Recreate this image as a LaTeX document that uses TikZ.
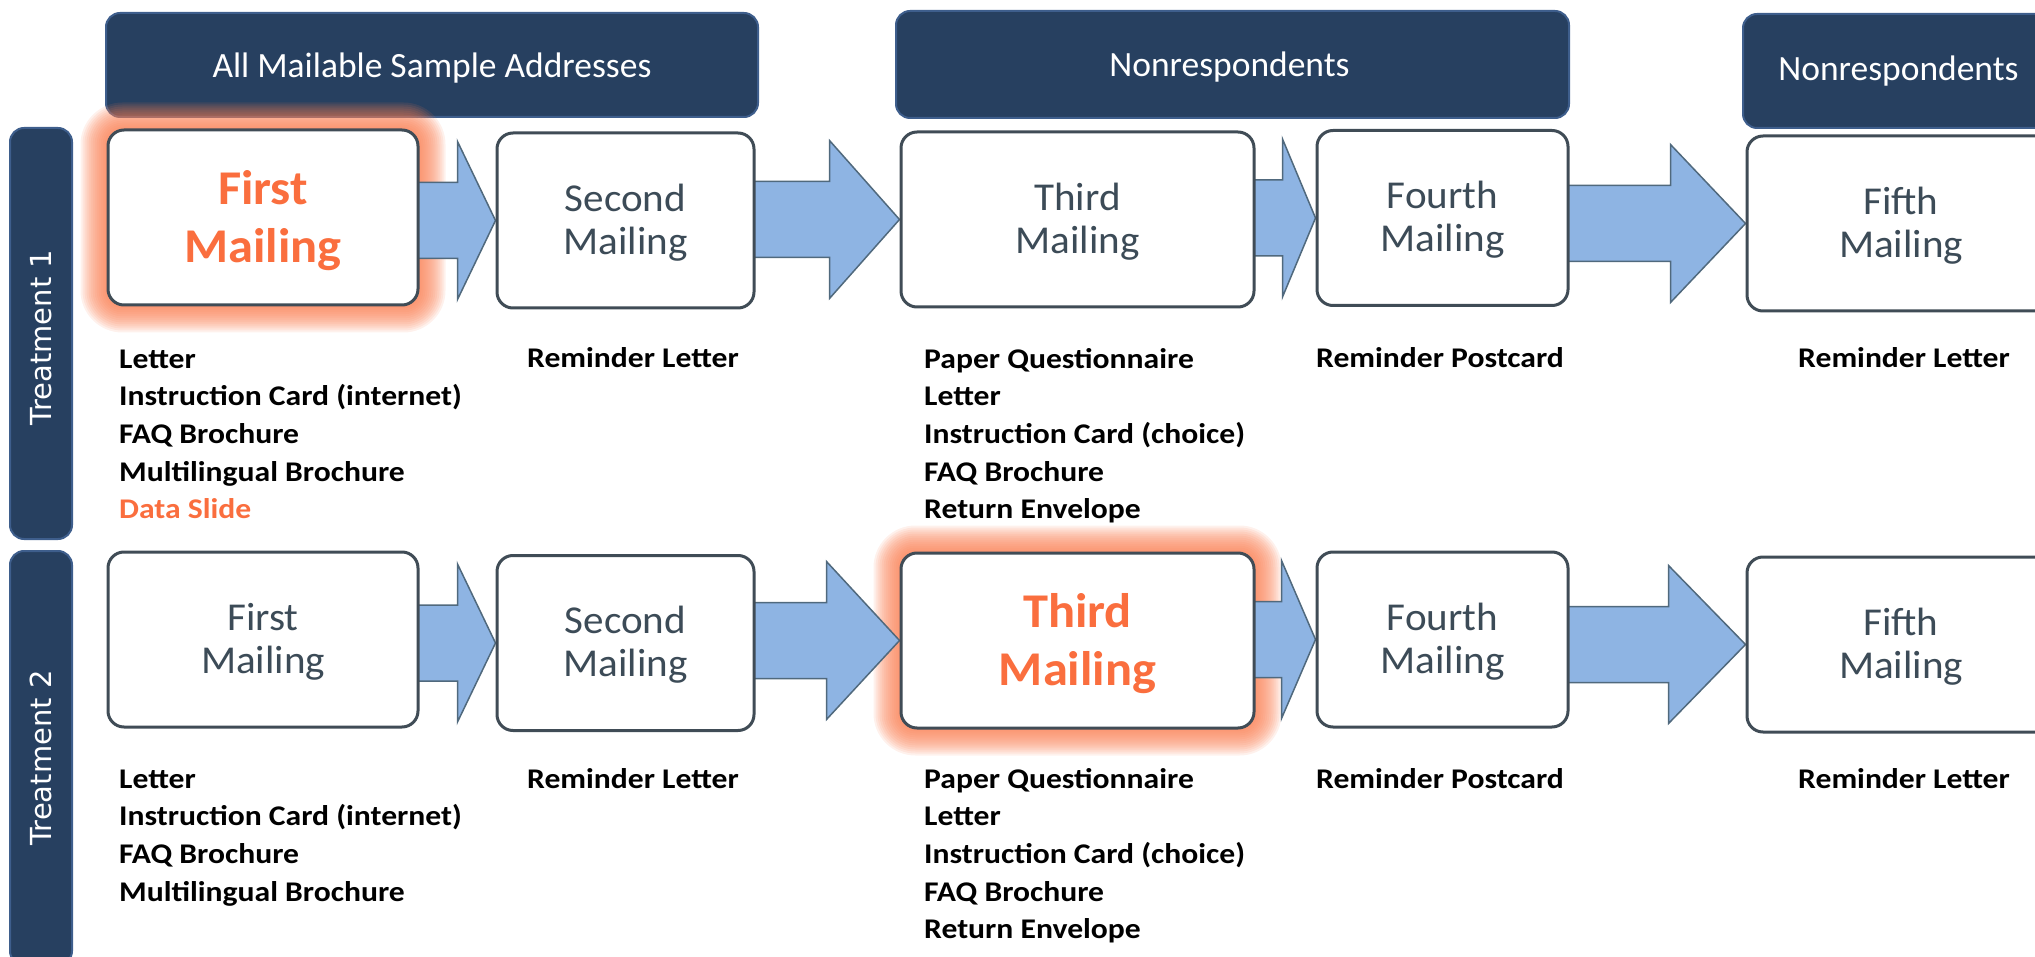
\documentclass[tikz,border=0pt]{standalone}
\usepackage{fontspec}
\setmainfont{Carlito}
\newfontfamily\sidefont{DejaVu Sans}
\newfontfamily\listfont[FakeStretch=1.11]{Carlito}
\newfontfamily\boxfont[FakeStretch=1.04]{Carlito}
\usetikzlibrary{calc}

\definecolor{navy}{RGB}{39,64,96}
\definecolor{navyedge}{RGB}{62,94,140}
\definecolor{boxedge}{RGB}{64,76,86}
\definecolor{boxtext}{RGB}{60,75,87}
\definecolor{hilite}{RGB}{250,110,62}
\definecolor{glowc}{RGB}{250,125,80}
\definecolor{arrowfill}{RGB}{142,180,227}
\definecolor{arrowedge}{RGB}{80,105,125}

\pgfdeclarelayer{bands}
\pgfdeclarelayer{glow}
\pgfdeclarelayer{flow}
\pgfsetlayers{bands,glow,flow,main}

\tikzset{
  band/.style={fill=navy, draw=navyedge, line width=2pt, rounded corners=14pt,
    inner sep=0pt},
  headtext/.style={text=white, inner sep=0pt, font=\fontsize{35.5}{40}\selectfont},
  sidetext/.style={text=white, inner sep=0pt, rotate=90,
    font=\sidefont\fontsize{29}{34}\selectfont},
  mailbox/.style={draw=boxedge, line width=3pt, fill=white, rounded corners=16pt,
    inner sep=0pt, text=boxtext, align=center, minimum height=175pt, text depth=3pt,
    font=\boxfont\fontsize{39.5}{43}\selectfont},
  keybox/.style={mailbox, text=hilite, text depth=2pt,
    font=\boxfont\fontsize{48.5}{58}\selectfont\bfseries},
  items/.style={anchor=base west, align=left, inner sep=0pt,
    font=\listfont\fontsize{28.5}{37.7}\selectfont\bfseries},
  flowarrow/.style={fill=arrowfill, draw=arrowedge, line width=1.5pt, line join=miter}
}

% block arrow from the right side of #1 to the left side of #2, head length #3
\newcommand\mailarrow[3]{%
  \path[flowarrow] let \p1=(#1.east), \p2=(#2.west) in
    (\x1-6pt,\y2+38pt) -- (\x2-#3pt,\y2+38pt) -- (\x2-#3pt,\y2+79pt) -- (\x2,\y2)
    -- (\x2-#3pt,\y2-79pt) -- (\x2-#3pt,\y2-38pt) -- (\x1-6pt,\y2-38pt) -- cycle;}

% soft orange halo behind a highlighted mailing
\newcommand\halo[1]{%
  \foreach \g in {1,...,13}{%
    \pgfmathsetmacro\gr{16+2*\g}
    \fill[glowc, opacity=0.11, rounded corners=\gr pt]
      ($(#1.south west)+(-2*\g pt,-2*\g pt)$) rectangle
      ($(#1.north east)+(2*\g pt,2*\g pt)$);}}

\begin{document}
\begin{tikzpicture}[x=1pt, y=-1pt]
\useasboundingbox (0,0) rectangle (2035,957);

% group headers and treatment bands
\begin{pgfonlayer}{bands}
  \node[band, minimum width=652pt, minimum height=104pt] (hAll) at (432,65) {};
  \node[band, minimum width=673pt, minimum height=107pt] (hNon1) at (1232.5,64.5) {};
  \node[band, minimum width=317pt, minimum height=114pt] (hNon2) at (1901.5,71) {};
  \node[band, minimum width=62pt, minimum height=411pt] (tr1) at (41,333.5) {};
  \node[band, minimum width=62pt, minimum height=414pt] (tr2) at (41,758) {};
  \node[headtext] at ($(hAll)+(0,3)$)  {All Mailable Sample Addresses};
  \node[headtext] at ($(hNon1)+(-3,3)$) {Nonrespondents};
  \node[headtext] at ($(hNon2)+(-3,0)$) {Nonrespondents};
  \node[sidetext] at ($(tr1)+(0,4)$) {Treatment 1};
  \node[sidetext] at (tr2) {Treatment 2};
\end{pgfonlayer}

% treatment 1 mailings
\node[keybox,  minimum width=310pt] (a1) at (263,217.5)    {First\\Mailing};
\node[mailbox, minimum width=257pt] (b1) at (625.5,220.5)  {Second\\Mailing};
\node[mailbox, minimum width=353pt] (c1) at (1077.5,219.5) {Third\\Mailing};
\node[mailbox, minimum width=251pt] (d1) at (1442.5,218)   {Fourth\\Mailing};
\node[mailbox, minimum width=308pt] (e1) at (1901,223.5)   {Fifth\\Mailing};

% treatment 2 mailings
\node[mailbox, minimum width=310pt] (a2) at (263,639.5)    {First\\Mailing};
\node[mailbox, minimum width=257pt] (b2) at (625.5,643)    {Second\\Mailing};
\node[keybox,  minimum width=353pt] (c2) at (1077.5,640.5) {Third\\Mailing};
\node[mailbox, minimum width=251pt] (d2) at (1442.5,639.5) {Fourth\\Mailing};
\node[mailbox, minimum width=308pt] (e2) at (1901,644.5)   {Fifth\\Mailing};

\begin{pgfonlayer}{glow}
  \halo{a1}
  \halo{c2}
\end{pgfonlayer}

\begin{pgfonlayer}{flow}
  \mailarrow{a1}{b1}{38}
  \mailarrow{b1}{c1}{70}
  \mailarrow{c1}{d1}{33}
  \mailarrow{d1}{e1}{75}
  \mailarrow{a2}{b2}{38}
  \mailarrow{b2}{c2}{73}
  \mailarrow{c2}{d2}{34}
  \mailarrow{d2}{e2}{77}
\end{pgfonlayer}

% contents of each mailing (a multi-line list sits on its last baseline)
\node[items] (la1) at (119,518.8)
  {Letter\\Instruction Card (internet)\\FAQ Brochure\\Multilingual Brochure\\
   \textcolor{hilite}{Data Slide}};
\node[items] (lb1) at (527,368)  {Reminder Letter};
\node[items] (lc1) at (924,518.8)
  {Paper Questionnaire\\Letter\\Instruction Card (choice)\\FAQ Brochure\\Return Envelope};
\node[items] (ld1) at (1316,368) {Reminder Postcard};
\node[items] (le1) at (1798,368) {Reminder Letter};

\node[items] (la2) at (119,901.1)
  {Letter\\Instruction Card (internet)\\FAQ Brochure\\Multilingual Brochure};
\node[items] (lb2) at (527,788)  {Reminder Letter};
\node[items] (lc2) at (924,938.8)
  {Paper Questionnaire\\Letter\\Instruction Card (choice)\\FAQ Brochure\\Return Envelope};
\node[items] (ld2) at (1316,788) {Reminder Postcard};
\node[items] (le2) at (1798,788) {Reminder Letter};
\end{tikzpicture}
\end{document}
